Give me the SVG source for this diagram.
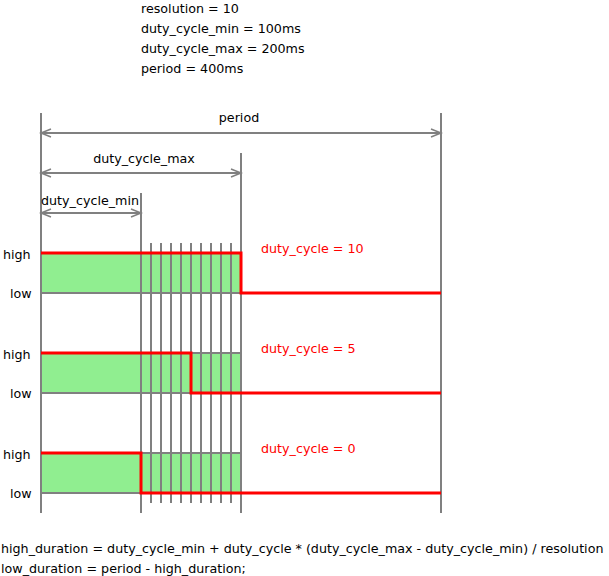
<svg xmlns="http://www.w3.org/2000/svg" width="609" height="576" viewBox="0 0 609 576">
<style>
text{font-family:"DejaVu Sans",sans-serif;font-size:12.7px;fill:#000}
.red{fill:#ff0000}
.g{stroke:#808080;stroke-width:2;fill:none}
.box{fill:#90ee90;stroke:#808080;stroke-width:2}
.sig{stroke:#ff0000;stroke-width:3;fill:none}
.dim{stroke:#808080;stroke-width:2;fill:none;marker-start:url(#ah);marker-end:url(#ah)}
</style>
<defs>
<marker id="ah" markerUnits="userSpaceOnUse" markerWidth="14" markerHeight="12" refX="11" refY="5" orient="auto-start-reverse" viewBox="0 0 14 10">
<path d="M1,1 L11,5 L1,9" fill="none" stroke="#808080" stroke-width="1.5"/>
</marker>
</defs>
<g id="params">
<text x="141" y="13">resolution = 10</text>
<text x="141" y="33">duty_cycle_min = 100ms</text>
<text x="141" y="53">duty_cycle_max = 200ms</text>
<text x="141" y="73">period = 400ms</text>
</g>
<g id="boxes">
<rect class="box" x="41" y="253" width="200" height="40"/>
<rect class="box" x="41" y="353" width="200" height="40"/>
<rect class="box" x="41" y="453" width="200" height="40"/>
</g>
<g id="gridlines">
<path class="g" d="M41,113V513M141,193V513M241,153V513M441,113V513"/>
<path class="g" d="M151,243V503M161,243V503M171,243V503M181,243V503M191,243V503M201,243V503M211,243V503M221,243V503M231,243V503"/>
</g>
<g id="connectors">
<line class="dim" x1="41" y1="133" x2="441" y2="133"/>
<line class="dim" x1="41" y1="173" x2="241" y2="173"/>
<line class="dim" x1="41" y1="213" x2="141" y2="213"/>
</g>
<g id="dimlabels">
<text x="239" y="122" text-anchor="middle">period</text>
<text x="144" y="163" text-anchor="middle">duty_cycle_max</text>
<text x="90" y="205" text-anchor="middle">duty_cycle_min</text>
</g>
<g id="signal10">
<path class="sig" d="M41,253H241V293H441"/>
<text x="3" y="259">high</text>
<text x="10" y="298">low</text>
<text class="red" x="261" y="253">duty_cycle = 10</text>
</g>
<g id="signal5">
<path class="sig" d="M41,353H191V393H441"/>
<text x="3" y="359">high</text>
<text x="10" y="398">low</text>
<text class="red" x="261" y="353">duty_cycle = 5</text>
</g>
<g id="signal0">
<path class="sig" d="M41,453H141V493H441"/>
<text x="3" y="459">high</text>
<text x="10" y="498">low</text>
<text class="red" x="261" y="453">duty_cycle = 0</text>
</g>
<g id="formulas">
<text x="1" y="553">high_duration = duty_cycle_min + duty_cycle * (duty_cycle_max - duty_cycle_min) / resolution</text>
<text x="1" y="573">low_duration = period - high_duration;</text>
</g>
</svg>
